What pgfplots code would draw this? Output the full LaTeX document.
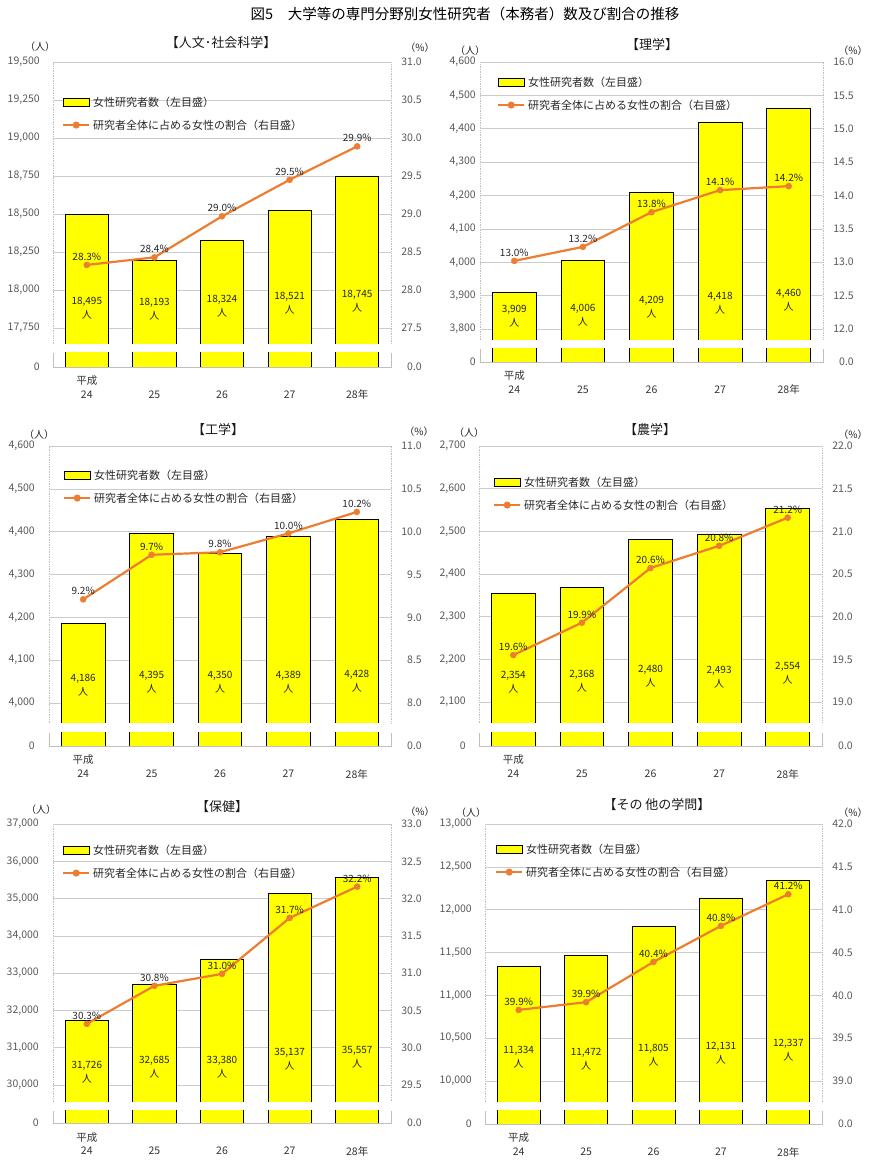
\documentclass[border=0pt]{standalone}
\usepackage{fontspec}
\setmainfont{Noto Sans CJK JP}
\usepackage{pgfplots}
\pgfplotsset{compat=1.18}
\usepackage{pgfplotstable}
\definecolor{barY}{RGB}{255,255,0}
\definecolor{lineO}{RGB}{237,125,49}
\definecolor{tickg}{RGB}{89,89,89}
\definecolor{gridg}{RGB}{204,204,204}
\definecolor{frameg}{RGB}{191,191,191}
\pgfplotsset{
 panel/.style={scale only axis, anchor=south west, xmin=-0.5, xmax=4.5, xtick=\empty,
   axis line style={draw=none}, major tick length=0pt, scaled y ticks=false, scaled x ticks=false,
   tick label style={font=\fontsize{10.5}{12}\selectfont, text=tickg, inner sep=0pt},
   /pgf/number format/assume math mode=true},
 lefttick/.style={yticklabel style={anchor=east, xshift=-#1}},
 righttick/.style={yticklabel pos=right, yticklabel style={anchor=east, xshift=31pt}},
 barplot/.style={ybar, bar width=0.64, bar shift=0pt, fill=barY, draw=black, line width=0.8pt},
 lineplot/.style={color=lineO, line width=2.2pt, mark=*, mark size=3pt,
   mark options={fill=lineO, draw=lineO, line width=0.5pt},
   nodes near coords={\pgfplotspointmeta\%}, point meta=explicit symbolic,
   every node near coord/.append style={font=\fontsize{10}{12}\selectfont, text=black!85, anchor=south, yshift=3pt, inner sep=1pt}},
 numlab/.style={draw=none, mark=none, nodes near coords={\pgfplotspointmeta}, point meta=explicit symbolic,
   every node near coord/.append style={font=\fontsize{10}{12}\selectfont, text=black!85, anchor=center, yshift=6.5pt, inner sep=0pt}},
 ninlab/.style={draw=none, mark=none, nodes near coords={人}, point meta=explicit symbolic,
   every node near coord/.append style={font=\fontsize{10}{12}\selectfont, text=black!85, anchor=center, yshift=-6.5pt, inner sep=0pt}},
 barleg/.style={legend image code/.code={\path[draw,##1] (0pt,-4pt) rectangle (26pt,4pt);}},
 lineleg/.style={legend image code/.code={\path[draw,mark repeat=2,mark phase=2,##1] plot coordinates {(0pt,0pt) (13pt,0pt) (26pt,0pt)};}},
 legpos/.style 2 args={legend style={draw=none, fill=none, at={(axis description cs:0,1)}, anchor=north west,
   xshift=#1, yshift=#2, row sep=12pt, column sep=3pt, font=\fontsize{11}{13}\selectfont, text=black!85,
   inner sep=0pt, nodes={inner sep=0pt}}, legend cell align=left},
 strip/.style={xtick={0,1,2,3,4}, xticklabels={24,25,26,27,28年},
   xticklabel style={anchor=center, yshift=-28pt, font=\fontsize{10.5}{12}\selectfont, text=black!80},
   ymin=0, ymax=#1, ytick={0}, yticklabels={0}},
}
\tikzset{mframe/.style={frameg, densely dotted, line width=0.7pt}, sframe/.style={frameg, line width=0.7pt},
  zlab/.style={font=\fontsize{10.5}{12}\selectfont, text=tickg, inner sep=0pt, anchor=east},
  heisei/.style={font=\fontsize{10.5}{12}\selectfont, text=black!80, inner sep=0pt},
  ttl/.style={font=\fontsize{13}{15}\selectfont, text=black!90}, unit/.style={font=\fontsize{10}{12}\selectfont, text=black!85}}
\pgfplotstableread{
x b p pl by bl
0 18495 28.33 28.3 17878 18,495
1 18193 28.43 28.4 17872 18,193
2 18324 28.97 29.0 17891 18,324
3 18521 29.45 29.5 17911 18,521
4 18745 29.89 29.9 17924 18,745
}\tA
\pgfplotstableread{
x b p pl by bl
0 3909 13.02 13.0 3837 3,909
1 4006 13.23 13.2 3840 4,006
2 4209 13.75 13.8 3864 4,209
3 4418 14.08 14.1 3876 4,418
4 4460 14.14 14.2 3885 4,460
}\tB
\pgfplotstableread{
x b p pl by bl
0 4186 9.21 9.2 4042 4,186
1 4395 9.73 9.7 4049 4,395
2 4350 9.76 9.8 4049 4,350
3 4389 9.98 10.0 4049 4,389
4 4428 10.23 10.2 4051 4,428
}\tC
\pgfplotstableread{
x b p pl by bl
0 2354 19.55 19.6 2147 2,354
1 2368 19.93 19.9 2149 2,368
2 2480 20.57 20.6 2161 2,480
3 2493 20.83 20.8 2159 2,493
4 2554 21.16 21.2 2168 2,554
}\tD
\pgfplotstableread{
x b p pl by bl
0 31726 30.32 30.3 30349 31,726
1 32685 30.83 30.8 30470 32,685
2 33380 30.99 31.0 30484 33,380
3 35137 31.74 31.7 30685 35,137
4 35557 32.16 32.2 30752 35,557
}\tE
\pgfplotstableread{
x b p pl by bl
0 11334 39.83 39.9 10274 11,334
1 11472 39.92 39.9 10251 11,472
2 11805 40.39 40.4 10297 11,805
3 12131 40.81 40.8 10327 12,131
4 12337 41.18 41.2 10362 12,337
}\tF
\begin{document}
\begin{tikzpicture}
\path[use as bounding box] (0pt,0pt) rectangle (889pt,1169pt);
\path (465pt,1155pt) node[font=\fontsize{14.5}{16}\selectfont] {図5　大学等の専門分野別女性研究者（本務者）数及び割合の推移};
% ---- decorations (drawn first)
\path (221pt,1126pt) node[ttl] {【人文･社会科学】};
\path (40pt,1122pt) node[unit] {（人）};
\path (420pt,1121pt) node[unit] {（\%）};
\path[draw,mframe] (53pt,825pt) -- (53pt,1107pt) -- (391pt,1107pt) -- (391pt,825pt);
\path[draw,sframe] (53pt,816pt) -- (53pt,802pt) -- (391pt,802pt) -- (391pt,816pt);
\path (422pt,802pt) node[zlab] {0.0};
\path (86.8pt,788pt) node[heisei] {平成};
\path (652pt,1124pt) node[ttl] {【理学】};
\path (470pt,1118pt) node[unit] {（人）};
\path (853pt,1118pt) node[unit] {（\%）};
\path[draw,mframe] (480pt,829pt) -- (480pt,1107pt) -- (823pt,1107pt) -- (823pt,829pt);
\path[draw,sframe] (480pt,820pt) -- (480pt,807pt) -- (823pt,807pt) -- (823pt,820pt);
\path (854pt,807pt) node[zlab] {0.0};
\path (514.3pt,793pt) node[heisei] {平成};
\path (218pt,739pt) node[ttl] {【工学】};
\path (39pt,734pt) node[unit] {（人）};
\path (419pt,737pt) node[unit] {（\%）};
\path[draw,mframe] (49pt,446pt) -- (49pt,723pt) -- (391pt,723pt) -- (391pt,446pt);
\path[draw,sframe] (49pt,436pt) -- (49pt,423pt) -- (391pt,423pt) -- (391pt,436pt);
\path (422pt,423pt) node[zlab] {0.0};
\path (83.2pt,409pt) node[heisei] {平成};
\path (650pt,739pt) node[ttl] {【農学】};
\path (469pt,736pt) node[unit] {（人）};
\path (853pt,734pt) node[unit] {（\%）};
\path[draw,mframe] (479pt,446pt) -- (479pt,723pt) -- (822pt,723pt) -- (822pt,446pt);
\path[draw,sframe] (479pt,436pt) -- (479pt,423pt) -- (822pt,423pt) -- (822pt,436pt);
\path (853pt,423pt) node[zlab] {0.0};
\path (513.3pt,409pt) node[heisei] {平成};
\path (222pt,362pt) node[ttl] {【保健】};
\path (41pt,359pt) node[unit] {（人）};
\path (420pt,357pt) node[unit] {（\%）};
\path[draw,mframe] (53pt,67pt) -- (53pt,345pt) -- (391pt,345pt) -- (391pt,67pt);
\path[draw,sframe] (53pt,58pt) -- (53pt,46pt) -- (391pt,46pt) -- (391pt,58pt);
\path (422pt,46pt) node[zlab] {0.0};
\path (86.8pt,31pt) node[heisei] {平成};
\path (657pt,364pt) node[ttl] {【その 他の学問】};
\path (471pt,356pt) node[unit] {（人）};
\path (853pt,356pt) node[unit] {（\%）};
\path[draw,mframe] (485pt,67pt) -- (485pt,345pt) -- (822pt,345pt) -- (822pt,67pt);
\path[draw,sframe] (485pt,58pt) -- (485pt,45pt) -- (822pt,45pt) -- (822pt,58pt);
\path (853pt,45pt) node[zlab] {0.0};
\path (518.7pt,31pt) node[heisei] {平成};
% ===== Panel 1
\begin{axis}[panel, at={(53pt,825pt)}, width=338pt, height=282pt, ymin=17645, ymax=19500,
  ytick={17750,18000,18250,18500,18750,19000,19250,19500},
  yticklabels={{17,750},{18,000},{18,250},{18,500},{18,750},{19,000},{19,250},{19,500}},
  lefttick=13pt, ymajorgrids, grid style={gridg, line width=0.6pt}]
\addplot[barplot] table[x=x,y=b]{\tA};
\addplot[numlab] table[x=x,y=by,meta=bl]{\tA};
\addplot[ninlab] table[x=x,y=by,meta=bl]{\tA};
\end{axis}
\begin{axis}[panel, at={(53pt,825pt)}, width=338pt, height=282pt, ymin=27.29, ymax=31.0,
  ytick={27.5,28.0,28.5,29.0,29.5,30.0,30.5,31.0}, yticklabels={27.5,28.0,28.5,29.0,29.5,30.0,30.5,31.0},
  righttick, legpos={9pt}{-34.5pt}]
\addlegendimage{barleg, fill=barY, draw=black, line width=0.8pt}
\addlegendentry{女性研究者数（左目盛）}
\addlegendimage{lineleg, color=lineO, line width=2pt, mark=*, mark size=2.5pt, mark options={fill=lineO}}
\addlegendentry{研究者全体に占める女性の割合（右目盛）}
\addplot[lineplot, forget plot] table[x=x,y=p,meta=pl]{\tA};
\end{axis}
\begin{axis}[panel, strip=1000, at={(53pt,802pt)}, width=338pt, height=14pt, lefttick=13pt]
\addplot[barplot] table[x=x,y=b]{\tA};
\end{axis}
% ===== Panel 2
\begin{axis}[panel, at={(480pt,829pt)}, width=343pt, height=278pt, ymin=3767, ymax=4600,
  ytick={3800,3900,4000,4100,4200,4300,4400,4500,4600},
  yticklabels={{3,800},{3,900},{4,000},{4,100},{4,200},{4,300},{4,400},{4,500},{4,600}},
  lefttick=4pt, ymajorgrids, grid style={gridg, line width=0.6pt}]
\addplot[barplot] table[x=x,y=b]{\tB};
\addplot[numlab] table[x=x,y=by,meta=bl]{\tB};
\addplot[ninlab] table[x=x,y=by,meta=bl]{\tB};
\end{axis}
\begin{axis}[panel, at={(480pt,829pt)}, width=343pt, height=278pt, ymin=11.835, ymax=16.0,
  ytick={12.0,12.5,13.0,13.5,14.0,14.5,15.0,15.5,16.0}, yticklabels={12.0,12.5,13.0,13.5,14.0,14.5,15.0,15.5,16.0},
  righttick, legpos={17pt}{-14.5pt}]
\addlegendimage{barleg, fill=barY, draw=black, line width=0.8pt}
\addlegendentry{女性研究者数（左目盛）}
\addlegendimage{lineleg, color=lineO, line width=2pt, mark=*, mark size=2.5pt, mark options={fill=lineO}}
\addlegendentry{研究者全体に占める女性の割合（右目盛）}
\addplot[lineplot, forget plot] table[x=x,y=p,meta=pl]{\tB};
\end{axis}
\begin{axis}[panel, strip=200, at={(480pt,807pt)}, width=343pt, height=13pt, lefttick=4pt]
\addplot[barplot] table[x=x,y=b]{\tB};
\end{axis}
% ===== Panel 3
\begin{axis}[panel, at={(49pt,446pt)}, width=342pt, height=277pt, ymin=3953, ymax=4600,
  ytick={4000,4100,4200,4300,4400,4500,4600},
  yticklabels={{4,000},{4,100},{4,200},{4,300},{4,400},{4,500},{4,600}},
  lefttick=14pt, ymajorgrids, grid style={gridg, line width=0.6pt}]
\addplot[barplot] table[x=x,y=b]{\tC};
\addplot[numlab] table[x=x,y=by,meta=bl]{\tC};
\addplot[ninlab] table[x=x,y=by,meta=bl]{\tC};
\end{axis}
\begin{axis}[panel, at={(49pt,446pt)}, width=342pt, height=277pt, ymin=7.767, ymax=11.0,
  ytick={8.0,8.5,9.0,9.5,10.0,10.5,11.0}, yticklabels={8.0,8.5,9.0,9.5,10.0,10.5,11.0},
  righttick, legpos={14pt}{-23.5pt}]
\addlegendimage{barleg, fill=barY, draw=black, line width=0.8pt}
\addlegendentry{女性研究者数（左目盛）}
\addlegendimage{lineleg, color=lineO, line width=2pt, mark=*, mark size=2.5pt, mark options={fill=lineO}}
\addlegendentry{研究者全体に占める女性の割合（右目盛）}
\addplot[lineplot, forget plot] table[x=x,y=p,meta=pl]{\tC};
\end{axis}
\begin{axis}[panel, strip=200, at={(49pt,423pt)}, width=342pt, height=13pt, lefttick=14pt]
\addplot[barplot] table[x=x,y=b]{\tC};
\end{axis}
% ===== Panel 4
\begin{axis}[panel, at={(479pt,446pt)}, width=343pt, height=277pt, ymin=2051, ymax=2700,
  ytick={2100,2200,2300,2400,2500,2600,2700},
  yticklabels={{2,100},{2,200},{2,300},{2,400},{2,500},{2,600},{2,700}},
  lefttick=13pt, ymajorgrids, grid style={gridg, line width=0.6pt}]
\addplot[barplot] table[x=x,y=b]{\tD};
\addplot[numlab] table[x=x,y=by,meta=bl]{\tD};
\addplot[ninlab] table[x=x,y=by,meta=bl]{\tD};
\end{axis}
\begin{axis}[panel, at={(479pt,446pt)}, width=343pt, height=277pt, ymin=18.754, ymax=22.0,
  ytick={19.0,19.5,20.0,20.5,21.0,21.5,22.0}, yticklabels={19.0,19.5,20.0,20.5,21.0,21.5,22.0},
  righttick, legpos={14pt}{-30.5pt}]
\addlegendimage{barleg, fill=barY, draw=black, line width=0.8pt}
\addlegendentry{女性研究者数（左目盛）}
\addlegendimage{lineleg, color=lineO, line width=2pt, mark=*, mark size=2.5pt, mark options={fill=lineO}}
\addlegendentry{研究者全体に占める女性の割合（右目盛）}
\addplot[lineplot, forget plot] table[x=x,y=p,meta=pl]{\tD};
\end{axis}
\begin{axis}[panel, strip=100, at={(479pt,423pt)}, width=343pt, height=13pt, lefttick=13pt]
\addplot[barplot] table[x=x,y=b]{\tD};
\end{axis}
% ===== Panel 5
\begin{axis}[panel, at={(53pt,67pt)}, width=338pt, height=278pt, ymin=29544, ymax=37000,
  ytick={30000,31000,32000,33000,34000,35000,36000,37000},
  yticklabels={{30,000},{31,000},{32,000},{33,000},{34,000},{35,000},{36,000},{37,000}},
  lefttick=14pt, ymajorgrids, grid style={gridg, line width=0.6pt}]
\addplot[barplot] table[x=x,y=b]{\tE};
\addplot[numlab] table[x=x,y=by,meta=bl]{\tE};
\addplot[ninlab] table[x=x,y=by,meta=bl]{\tE};
\end{axis}
\begin{axis}[panel, at={(53pt,67pt)}, width=338pt, height=278pt, ymin=29.272, ymax=33.0,
  ytick={29.5,30.0,30.5,31.0,31.5,32.0,32.5,33.0}, yticklabels={29.5,30.0,30.5,31.0,31.5,32.0,32.5,33.0},
  righttick, legpos={9pt}{-20.5pt}]
\addlegendimage{barleg, fill=barY, draw=black, line width=0.8pt}
\addlegendentry{女性研究者数（左目盛）}
\addlegendimage{lineleg, color=lineO, line width=2pt, mark=*, mark size=2.5pt, mark options={fill=lineO}}
\addlegendentry{研究者全体に占める女性の割合（右目盛）}
\addplot[lineplot, forget plot] table[x=x,y=p,meta=pl]{\tE};
\end{axis}
\begin{axis}[panel, strip=2000, at={(53pt,46pt)}, width=338pt, height=12pt, lefttick=14pt]
\addplot[barplot] table[x=x,y=b]{\tE};
\end{axis}
% ===== Panel 6
\begin{axis}[panel, at={(485pt,67pt)}, width=337pt, height=278pt, ymin=9755, ymax=13000,
  ytick={10000,10500,11000,11500,12000,12500,13000},
  yticklabels={{10,000},{10,500},{11,000},{11,500},{12,000},{12,500},{13,000}},
  lefttick=13pt, ymajorgrids, grid style={gridg, line width=0.6pt}]
\addplot[barplot] table[x=x,y=b]{\tF};
\addplot[numlab] table[x=x,y=by,meta=bl]{\tF};
\addplot[ninlab] table[x=x,y=by,meta=bl]{\tF};
\end{axis}
\begin{axis}[panel, at={(485pt,67pt)}, width=337pt, height=278pt, ymin=38.755, ymax=42.0,
  ytick={39.0,39.5,40.0,40.5,41.0,41.5,42.0}, yticklabels={39.0,39.5,40.0,40.5,41.0,41.5,42.0},
  righttick, legpos={10pt}{-19.5pt}]
\addlegendimage{barleg, fill=barY, draw=black, line width=0.8pt}
\addlegendentry{女性研究者数（左目盛）}
\addlegendimage{lineleg, color=lineO, line width=2pt, mark=*, mark size=2.5pt, mark options={fill=lineO}}
\addlegendentry{研究者全体に占める女性の割合（右目盛）}
\addplot[lineplot, forget plot] table[x=x,y=p,meta=pl]{\tF};
\end{axis}
\begin{axis}[panel, strip=500, at={(485pt,45pt)}, width=337pt, height=13pt, lefttick=13pt]
\addplot[barplot] table[x=x,y=b]{\tF};
\end{axis}
\end{tikzpicture}
\end{document}
